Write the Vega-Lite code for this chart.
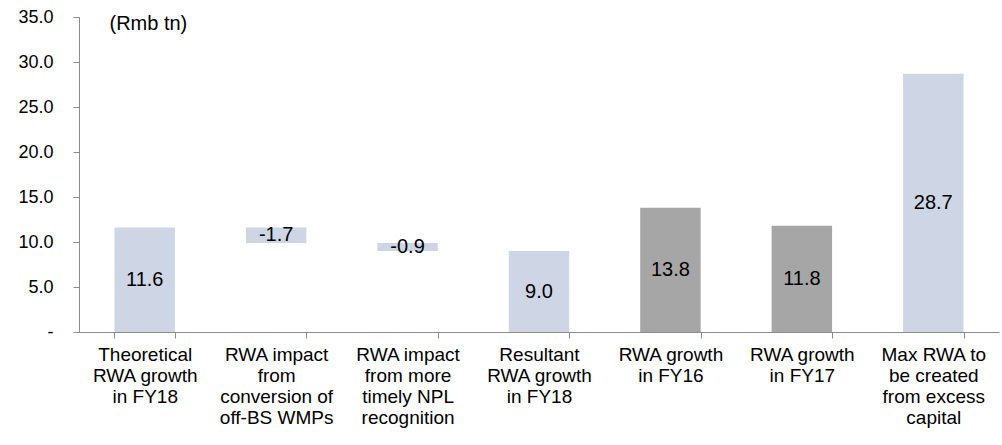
{
  "$schema": "https://vega.github.io/schema/vega-lite/v6.json",
  "width": 920,
  "height": 315,
  "autosize": {"type": "none"},
  "padding": {"left": 79, "top": 17, "right": 3, "bottom": 113},
  "background": "white",
  "config": {
    "view": {"stroke": null},
    "font": "Liberation Sans",
    "axis": {"grid": false, "domainColor": "#8C8C8C", "tickColor": "#8C8C8C", "labelColor": "#000000", "labelFont": "Liberation Sans", "titleFont": "Liberation Sans"}
  },
  "data": {
    "values": [
      {"category": "Theoretical|RWA growth|in FY18", "start": 0, "end": 11.6, "label": "11.6", "type": "light"},
      {"category": "RWA impact|from|conversion of|off-BS WMPs", "start": 9.9, "end": 11.6, "label": "-1.7", "type": "light"},
      {"category": "RWA impact|from more|timely NPL|recognition", "start": 9.0, "end": 9.9, "label": "-0.9", "type": "light"},
      {"category": "Resultant|RWA growth|in FY18", "start": 0, "end": 9.0, "label": "9.0", "type": "light"},
      {"category": "RWA growth|in FY16", "start": 0, "end": 13.8, "label": "13.8", "type": "gray"},
      {"category": "RWA growth|in FY17", "start": 0, "end": 11.8, "label": "11.8", "type": "gray"},
      {"category": "Max RWA to|be created|from excess|capital", "start": 0, "end": 28.7, "label": "28.7", "type": "light"}
    ]
  },
  "transform": [{"calculate": "(datum.start + datum.end) / 2", "as": "mid"}],
  "encoding": {
    "x": {
      "field": "category", "type": "nominal", "sort": null,
      "scale": {"paddingInner": 0.54, "paddingOuter": 0.27},
      "axis": {
        "title": null, "labelAngle": 0, "labelExpr": "split(datum.label, '|')",
        "labelFontSize": 19, "labelLineHeight": 21, "labelPadding": 7, "labelLimit": 200,
        "labelOverlap": false, "tickBand": "extent", "tickSize": 6, "labelBaseline": "top"
      }
    }
  },
  "layer": [
    {
      "mark": {"type": "bar"},
      "encoding": {
        "y": {
          "field": "start", "type": "quantitative",
          "scale": {"domain": [0, 35], "nice": false},
          "axis": {
            "values": [0, 5, 10, 15, 20, 25, 30, 35],
            "labelExpr": "datum.value == 0 ? '-' : format(datum.value, '.1f')",
            "labelFontSize": 18, "labelPadding": 20, "tickSize": 6,
            "title": "(Rmb tn)", "titleAngle": 0, "titleAlign": "left", "titleBaseline": "alphabetic",
            "titleX": 30, "titleY": 12, "titleFontSize": 20, "titleFontWeight": "normal", "titleColor": "#000000"
          }
        },
        "y2": {"field": "end"},
        "color": {
          "field": "type", "type": "nominal", "legend": null,
          "scale": {"domain": ["light", "gray"], "range": ["#CED5E5", "#A6A6A6"]}
        }
      }
    },
    {
      "mark": {"type": "text", "fontSize": 20, "color": "#000000", "baseline": "middle"},
      "encoding": {
        "y": {"field": "mid", "type": "quantitative"},
        "text": {"field": "label", "type": "nominal"}
      }
    }
  ]
}
